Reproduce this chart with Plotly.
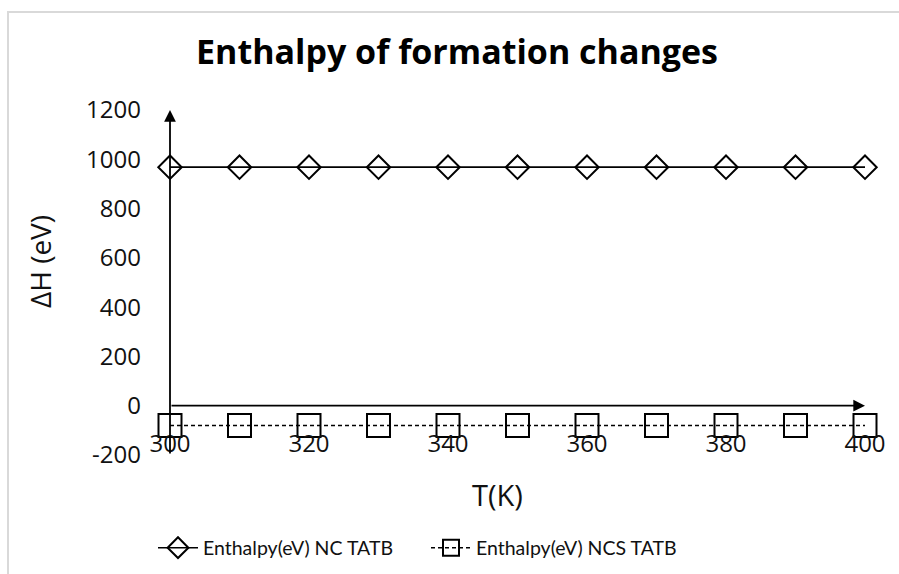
import plotly.graph_objects as go

# ---- data ----
temps = [300, 310, 320, 330, 340, 350, 360, 370, 380, 390, 400]
nc_tatb = [968, 968, 968, 968, 968, 968, 968, 968, 968, 968, 968]
ncs_tatb = [-80, -80, -80, -80, -80, -80, -80, -80, -80, -80, -80]
y_ticks = [-200, 0, 200, 400, 600, 800, 1000, 1200]
y_tick_labels = ["-200", "0", "200", "400", "600", "800", "1000", "1200"]
x_ticks = [300, 320, 340, 360, 380, 400]
x_tick_labels = ["300", "320", "340", "360", "380", "400"]
series_names = ["Enthalpy(eV) NC TATB", "Enthalpy(eV) NCS TATB"]
title_text = "Enthalpy of formation changes"
x_title = "T(K)"
y_title = "ΔH (eV)"

# ---- layout geometry ----
W, H = 899, 574
L, R, T, B = 170, 34, 110, 119
PW, PH = W - L - R, H - T - B
XMIN, XMAX = 300, 400
YMIN, YMAX = -200, 1200


def px_x(p):
    return (p - L) / PW


def px_y(p):
    return (H - B - p) / PH


fig = go.Figure()
fig.add_trace(go.Scatter(
    x=temps, y=nc_tatb, name=series_names[0], mode="lines+markers",
    line=dict(color="black", width=1.6),
    marker=dict(symbol="diamond-open", size=18, color="black", line=dict(width=2, color="black")),
    cliponaxis=False,
))
fig.add_trace(go.Scatter(
    x=temps, y=ncs_tatb, name=series_names[1], mode="lines+markers",
    line=dict(color="black", width=1.4, dash="4px,3px"),
    marker=dict(symbol="square-open", size=23, color="black", line=dict(width=2, color="black")),
    cliponaxis=False,
))

tick_font = dict(family="Open Sans", size=24, color="#111")

fig.update_layout(
    width=W, height=H,
    margin=dict(l=L, r=R, t=T, b=B, autoexpand=False),
    paper_bgcolor="white", plot_bgcolor="white",
    showlegend=True,
    legend=dict(orientation="h", x=px_x(153), y=px_y(548), xanchor="left", yanchor="middle",
                entrywidth=218, itemwidth=40,
                font=dict(family="Lato", size=19.5, color="#111"), bgcolor="rgba(0,0,0,0)"),
    title=dict(text=title_text, x=457 / W, y=1 - 52 / H, xref="container", yref="container",
               xanchor="center", yanchor="middle",
               font=dict(family="Open Sans", size=34, color="black", weight="bold")),
    xaxis=dict(range=[XMIN, XMAX], tickvals=x_ticks, ticktext=x_tick_labels,
               showgrid=False, zeroline=False, showline=False, ticks="",
               anchor="free", position=(0 - YMIN) / (YMAX - YMIN),
               ticklabelstandoff=21, tickfont=tick_font),
    yaxis=dict(range=[YMIN, YMAX], tickvals=y_ticks, ticktext=y_tick_labels,
               showgrid=False, zeroline=False, showline=False, ticks="",
               ticklabelstandoff=28, tickfont=tick_font),
)

# axis arrows
fig.add_annotation(x=XMAX, y=0, ax=XMIN, ay=0, xref="x", yref="y", axref="x", ayref="y",
                   text="", showarrow=True, arrowhead=2, arrowsize=1.3, arrowwidth=1.8, arrowcolor="black")
fig.add_annotation(x=XMIN, y=YMAX, ax=XMIN, ay=YMIN, xref="x", yref="y", axref="x", ayref="y",
                   text="", showarrow=True, arrowhead=2, arrowsize=1.3, arrowwidth=1.8, arrowcolor="black")

# axis titles
fig.add_annotation(x=px_x(40), y=px_y(262), xref="paper", yref="paper", text=y_title, showarrow=False,
                   textangle=-90, font=dict(family="Open Sans", size=28, color="#111"),
                   xanchor="center", yanchor="middle")
fig.add_annotation(x=px_x(497), y=px_y(494), xref="paper", yref="paper", text=x_title, showarrow=False,
                   font=dict(family="Open Sans", size=29, color="#111"),
                   xanchor="center", yanchor="middle")

# chart border
fig.add_shape(type="rect", xref="paper", yref="paper",
              x0=px_x(8), y0=px_y(12), x1=px_x(W + 5), y1=px_y(H + 5),
              line=dict(color="#d9d9d9", width=2), fillcolor="rgba(0,0,0,0)", layer="below")

fig.write_html("out.html", config={"displayModeBar": False},
               post_script="document.body.style.margin='0px';")
